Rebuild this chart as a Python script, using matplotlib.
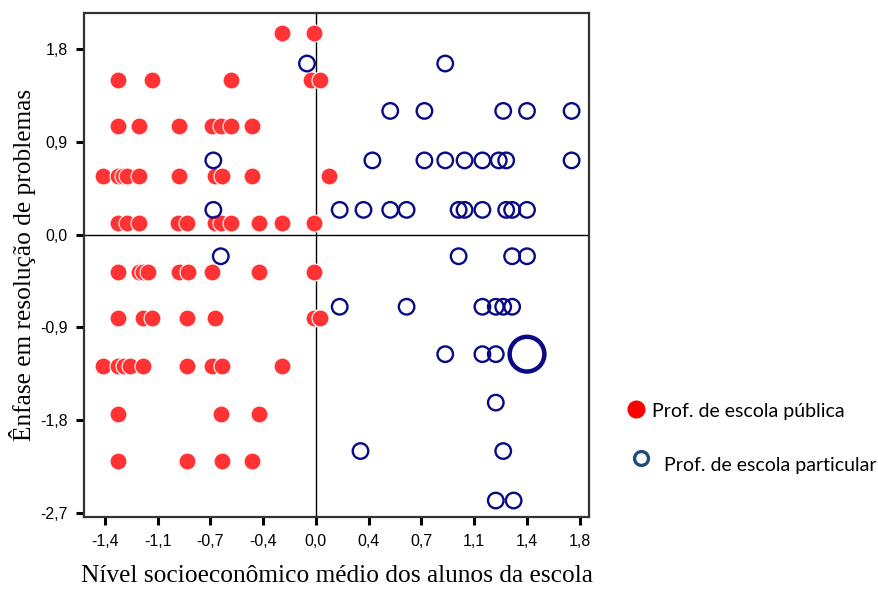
import matplotlib
matplotlib.use("Agg")
import matplotlib.pyplot as plt
from matplotlib.lines import Line2D
import numpy as np

# Professores de escola pública (x = nível socioeconômico, y = ênfase)
pub_x = [-0.23, -0.01,
         -1.33, -1.10, -0.57, -0.03, 0.03,
         -1.33, -1.19, -0.92, -0.70, -0.64, -0.57, -0.43,
         -1.43, -1.33, -1.30, -1.27, -1.19, -0.92, -0.68, -0.63, -0.43, 0.09,
         -1.33, -1.27, -1.19, -0.93, -0.87, -0.68, -0.64, -0.57, -0.38, -0.23, -0.01,
         -1.33, -1.19, -1.16, -1.13, -0.92, -0.86, -0.70, -0.38, -0.01,
         -1.33, -1.16, -1.10, -0.87, -0.68, -0.01, 0.03,
         -1.43, -1.33, -1.29, -1.25, -1.16, -0.87, -0.70, -0.63, -0.23,
         -1.33, -0.64, -0.38,
         -1.33, -0.87, -0.63, -0.43]
pub_y = [1.96, 1.96,
         1.50, 1.50, 1.50, 1.50, 1.50,
         1.05, 1.05, 1.05, 1.05, 1.05, 1.05, 1.05,
         0.57, 0.57, 0.57, 0.57, 0.57, 0.57, 0.57, 0.57, 0.57, 0.57,
         0.11, 0.11, 0.11, 0.11, 0.11, 0.11, 0.11, 0.11, 0.11, 0.11, 0.11,
         -0.36, -0.36, -0.36, -0.36, -0.36, -0.36, -0.36, -0.36, -0.36,
         -0.81, -0.81, -0.81, -0.81, -0.81, -0.81, -0.81,
         -1.27, -1.27, -1.27, -1.27, -1.27, -1.27, -1.27, -1.27, -1.27,
         -1.74, -1.74, -1.74,
         -2.20, -2.20, -2.20, -2.20]

# Professores de escola particular
par_x = [-0.06, 0.87,
         0.50, 0.73, 1.26, 1.42, 1.72,
         -0.69, 0.38, 0.73, 0.87, 1.00, 1.12, 1.23, 1.28, 1.72,
         -0.69, 0.16, 0.32, 0.50, 0.61, 0.96, 1.00, 1.12, 1.28, 1.32, 1.42,
         -0.64, 0.96, 1.32, 1.42,
         0.16, 0.61, 1.12, 1.21, 1.26, 1.32,
         0.87, 1.12, 1.21, 1.42,
         1.21,
         0.30, 1.26,
         1.21, 1.33]
par_y = [1.66, 1.66,
         1.20, 1.20, 1.20, 1.20, 1.20,
         0.72, 0.72, 0.72, 0.72, 0.72, 0.72, 0.72, 0.72, 0.72,
         0.24, 0.24, 0.24, 0.24, 0.24, 0.24, 0.24, 0.24, 0.24, 0.24, 0.24,
         -0.21, -0.21, -0.21, -0.21,
         -0.70, -0.70, -0.70, -0.70, -0.70, -0.70,
         -1.16, -1.16, -1.16, -1.16,
         -1.63,
         -2.10, -2.10,
         -2.58, -2.58]
# número de professores em cada ponto (o ponto grande tem vários)
par_n = [1] * len(par_x)
par_n[40] = 5

x_ticks = [-1.42, -1.065, -0.71, -0.355, 0.0, 0.355, 0.71, 1.065, 1.42, 1.775]
x_labels = ['-1,4', '-1,1', '-0,7', '-0,4', '0,0', '0,4', '0,7', '1,1', '1,4', '1,8']
y_ticks = [1.8, 0.9, 0.0, -0.9, -1.8, -2.7]
y_labels = ['1,8', '0,9', '0,0', '-0,9', '-1,8', '-2,7']

fig = plt.figure(figsize=(8.79, 5.94), dpi=100)
ax = fig.add_axes([0.0959, 0.1296, 0.574, 0.8485])

ax.axvline(0, color='black', lw=1, zorder=1)
ax.axhline(0, color='black', lw=1, zorder=1)

ax.scatter(pub_x, pub_y, s=150, color='#ff3333', edgecolors='white',
           linewidths=0.8, zorder=3)
n = np.array(par_n)
ax.scatter(par_x, par_y, s=125 * n, facecolors='none', edgecolors='#0a0a85',
           linewidths=np.where(n > 1, 3.2, 1.7), zorder=4)

ax.set_xlim(-1.558, 1.836)
ax.set_ylim(-2.74, 2.15)
ax.set_xticks(x_ticks)
ax.set_xticklabels(x_labels)
ax.set_yticks(y_ticks)
ax.set_yticklabels(y_labels)

tick_font = ['Liberation Sans Narrow', 'Liberation Sans', 'DejaVu Sans']
for lab in ax.get_xticklabels() + ax.get_yticklabels():
    lab.set_family(tick_font)
    lab.set_fontsize(11.5)
ax.tick_params(direction='out', length=6, width=2.2, color='black', pad=6)

for s in ax.spines.values():
    s.set_color('#333333')
    s.set_linewidth(1.6)

ax.set_xlabel('Nível socioeconômico médio dos alunos da escola',
              family=['Liberation Serif', 'DejaVu Serif'], fontsize=18.3, labelpad=12)
ax.set_ylabel('Ênfase em resolução de problemas',
              family=['Liberation Serif', 'DejaVu Serif'], fontsize=18.3, labelpad=3)

# legenda ao lado do gráfico
fig.add_artist(Line2D([636 / 879], [1 - 409 / 594], transform=fig.transFigure,
                      marker='o', markersize=12, color='red', linestyle='none'))
fig.text(652 / 879, 1 - 411 / 594, 'Prof. de escola pública', fontsize=14,
         va='center', family=['Lato', 'DejaVu Sans'])
fig.add_artist(Line2D([641 / 879], [1 - 458 / 594], transform=fig.transFigure,
                      marker='o', markersize=10, markerfacecolor='none',
                      markeredgecolor='#1f4e79', markeredgewidth=2.4,
                      linestyle='none'))
fig.text(664 / 879, 1 - 465 / 594, 'Prof. de escola particular', fontsize=14,
         va='center', family=['Lato', 'DejaVu Sans'])

plt.savefig('out.png', dpi=100)
